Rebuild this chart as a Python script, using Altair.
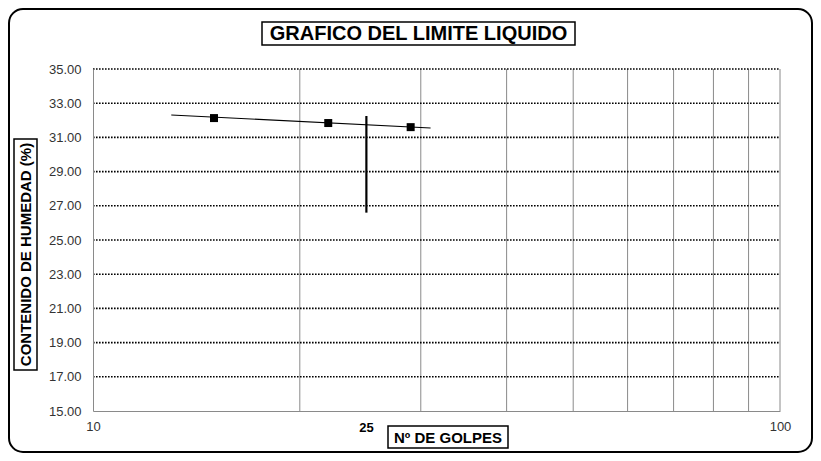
import altair as alt
import pandas as pd

# data
golpes = [15, 22, 29]
humedad = [32.13, 31.84, 31.60]
trend_x = [13, 31]
trend_y = [32.31, 31.55]
limite_x = [25]
limite_y1 = [26.6]
limite_y2 = [32.25]
y_ticks = [15, 17, 19, 21, 23, 25, 27, 29, 31, 33, 35]
y_grid = [17, 19, 21, 23, 25, 27, 29, 31, 33, 35]
x_grid = [20, 30, 40, 50, 60, 70, 80, 90, 100]
x_labels = [10, 100]

W, H = 687, 342
FONT = "Liberation Sans"

xs = alt.Scale(type="log", domain=[10, 100], base=10)
ys = alt.Scale(domain=[15, 35], nice=False, zero=False)

x_axis = alt.Axis(values=x_labels, title=None, grid=False, ticks=False,
                  domainColor="#8a8a8a", labelFontSize=13, labelFont=FONT,
                  labelColor="#333333", labelPadding=9, labelFlush=False,
                  labelOverlap=False, zindex=1)
y_axis = alt.Axis(values=y_ticks, format=".2f", title=None, grid=False, ticks=False,
                  domainColor="#8a8a8a", labelFontSize=13, labelFont=FONT,
                  labelColor="#333333", labelPadding=12, labelOverlap=False,
                  labelFlush=False, labelBound=False, zindex=1)


def X(f):
    return alt.X(f, scale=xs, axis=x_axis)


def Y(f):
    return alt.Y(f, scale=ys, axis=y_axis)


pts = pd.DataFrame({"x": golpes, "y": humedad})
trend = pd.DataFrame({"x": trend_x, "y": trend_y})
lim = pd.DataFrame({"x": limite_x, "y": limite_y1, "y2": limite_y2})
hg = pd.DataFrame({"y": y_grid})
vg = pd.DataFrame({"x": x_grid})
one = pd.DataFrame({"a": [0]})

border = alt.Chart(one).mark_rect(
    fillOpacity=0, stroke="black", strokeWidth=2, cornerRadius=14
).encode(
    x=alt.value(-84), x2=alt.value(719), y=alt.value(-60), y2=alt.value(383)
)

vgrid = alt.Chart(vg).mark_rule(color="#8a8a8a", strokeWidth=1).encode(
    x=X("x:Q"), y=alt.value(0), y2=alt.value(H)
)

hgrid = alt.Chart(hg).mark_rule(color="black", strokeWidth=1.6, strokeDash=[1.6, 1.4]).encode(
    y=Y("y:Q"), x=alt.value(0), x2=alt.value(W)
)

tline = alt.Chart(trend).mark_line(color="black", strokeWidth=1.2).encode(
    x=X("x:Q"), y=Y("y:Q")
)

limline = alt.Chart(lim).mark_rule(color="black", strokeWidth=2.2).encode(
    x=X("x:Q"), y=Y("y:Q"), y2="y2:Q"
)

points = alt.Chart(pts).mark_square(color="black", size=64, opacity=1).encode(
    x=X("x:Q"), y=Y("y:Q")
)

lbl25 = alt.Chart(lim).mark_text(
    font=FONT, fontSize=13, fontWeight="bold", color="black", baseline="middle"
).encode(
    x=X("x:Q"), y=alt.value(359), text=alt.value("25")
)


def box(x1, x2, y1, y2):
    return alt.Chart(one).mark_rect(fill="white", stroke="black", strokeWidth=1.5).encode(
        x=alt.value(x1), x2=alt.value(x2), y=alt.value(y1), y2=alt.value(y2)
    )


title_box = box(169, 482, -47, -24)
title_txt = alt.Chart(one).mark_text(
    font=FONT, fontSize=20, fontWeight="bold", color="black", baseline="middle", align="center"
).encode(x=alt.value(325.5), y=alt.value(-35), text=alt.value("GRAFICO DEL LIMITE LIQUIDO"))

xt_box = box(295, 415, 357, 379)
xt_txt = alt.Chart(one).mark_text(
    font=FONT, fontSize=15, fontWeight="bold", color="black", baseline="middle", align="center"
).encode(x=alt.value(355), y=alt.value(368.5), text=alt.value("Nº DE GOLPES"))

yt_box = box(-79, -56, 70, 301)
yt_txt = alt.Chart(one).mark_text(
    font=FONT, fontSize=15, fontWeight="bold", color="black", baseline="middle", align="center",
    angle=270
).encode(x=alt.value(-67), y=alt.value(185.5), text=alt.value("CONTENIDO DE HUMEDAD (%)"))

chart = alt.layer(
    border, vgrid, hgrid, tline, limline, points, lbl25,
    title_box, title_txt, xt_box, xt_txt, yt_box, yt_txt
).properties(
    width=W, height=H,
    autosize=alt.AutoSizeParams(type="none"),
    padding={"left": 85, "top": 61, "right": 33, "bottom": 42},
    background="white"
).configure_view(stroke=None).configure_axis(labelOverlap=False)

chart.save("out.html", embed_options={"renderer": "svg", "actions": False})
